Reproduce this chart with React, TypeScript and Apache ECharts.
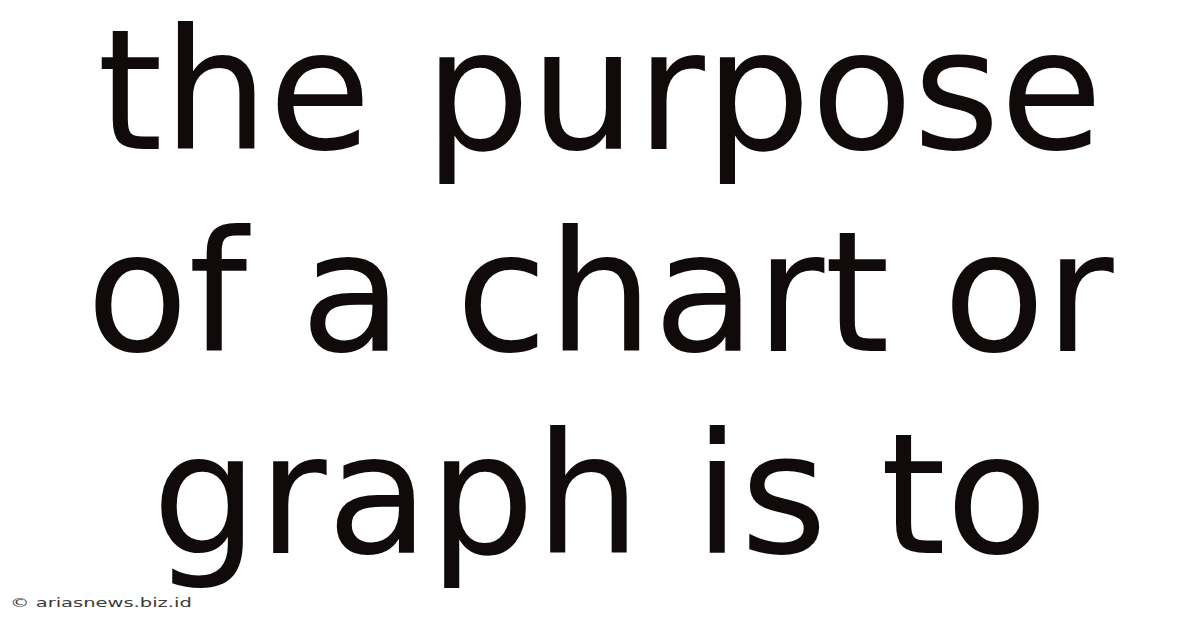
import { useEffect, useRef } from 'react'
import * as echarts from 'echarts'

// Title card: three centred lines of large text and a small credit bottom-left.
const LINES = ['the purpose', 'of a chart or', 'graph is to']
const CREDIT = '© ariasnews.biz.id'

const INK = '#110a0b'
const CREDIT_INK = '#3b3b3b'
const FONT = "'DejaVu Sans', sans-serif"

const W = 1200
const H = 628

export default function App() {
  const ref = useRef<HTMLDivElement>(null)

  useEffect(() => {
    document.body.style.margin = '0'
    const el = ref.current
    if (!el) return
    const chart = echarts.init(el, null, { renderer: 'svg' })

    const lineEls = LINES.map((text, i) => ({
      type: 'text' as const,
      x: W / 2,
      y: 91 + i * 202,
      style: {
        text,
        fill: INK,
        font: `167px ${FONT}`,
        lineHeight: 167,
        align: 'center',
        verticalAlign: 'middle',
      },
    }))

    chart.setOption({
      animation: false,
      backgroundColor: '#ffffff',
      graphic: [
        ...lineEls,
        {
          type: 'text',
          x: 10,
          y: 603,
          scaleX: 1.5,
          style: {
            text: CREDIT,
            fill: CREDIT_INK,
            font: `13px ${FONT}`,
            align: 'left',
            verticalAlign: 'middle',
          },
        },
      ],
    })

    return () => chart.dispose()
  }, [])

  return <div ref={ref} style={{ width: W, height: H }} />
}
